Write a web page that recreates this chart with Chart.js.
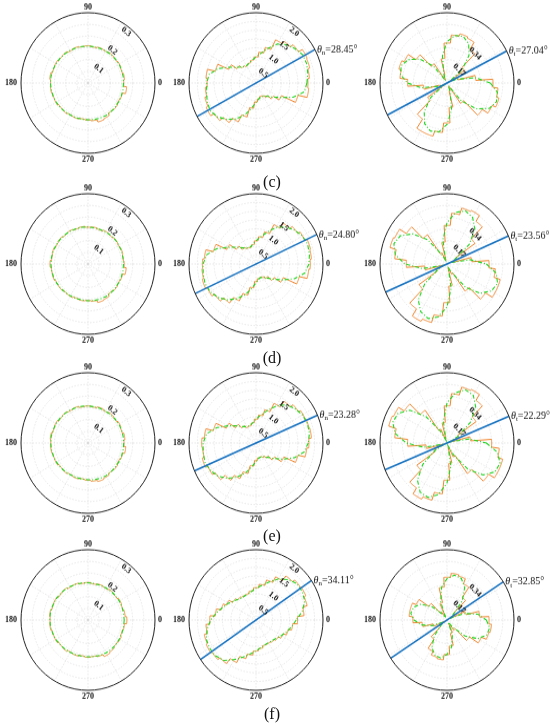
<!DOCTYPE html>
<html>
<head>
<meta charset="utf-8">
<script src="https://cdn.jsdelivr.net/npm/chart.js@4.4.0/dist/chart.umd.min.js"></script>
<style>
html, body { margin: 0; padding: 0; background: #fff; overflow: hidden; }
#page { position: relative; width: 550px; height: 723px; overflow: hidden; }
.cell { position: absolute; width: 340px; height: 172px; transform: scaleY(1.05); transform-origin: 170px 86px; }
.cell canvas { display: block; }
.tag { position: absolute; width: 40px; margin-left: -20px; text-align: center; font: 16px "Liberation Serif", serif; color: #111; line-height: 18px; }
</style>
</head>
<body>
<div id="page"></div>
<script>
// angles of the histogram bins / fit samples, every 10 degrees (0..350)
var sampleAngles = [0,10,20,30,40,50,60,70,80,90,100,110,120,130,140,150,160,170,180,190,200,210,220,230,240,250,260,270,280,290,300,310,320,330,340,350];

// panel tags and principal directions
var panelTags = ['(c)', '(d)', '(e)', '(f)'];
var thetaN = [28.45, 24.80, 23.28, 34.11];
var thetaT = [27.04, 23.56, 22.29, 32.85];

// radial axis ticks
var leftTicks = ['0.1', '0.2', '0.3'];
var midTicks = ['0.5', '1.0', '1.5', '2.0'];
var rightTicks = ['0.17', '0.34'];

// left column (orange histogram, green fit)
var leftC_hist = [0.160,0.164,0.159,0.162,0.158,0.161,0.157,0.159,0.155,0.159,0.157,0.161,0.158,0.164,0.162,0.167,0.165,0.172,0.168,0.169,0.165,0.166,0.160,0.162,0.157,0.159,0.155,0.158,0.162,0.172,0.168,0.158,0.162,0.157,0.160,0.174];
var leftC_fit = [0.159,0.160,0.160,0.161,0.160,0.159,0.158,0.157,0.157,0.157,0.158,0.159,0.160,0.162,0.164,0.165,0.167,0.168,0.168,0.167,0.166,0.164,0.162,0.160,0.158,0.157,0.157,0.157,0.158,0.159,0.160,0.160,0.160,0.159,0.159,0.159];
var leftD_hist = [0.162,0.159,0.162,0.158,0.161,0.157,0.160,0.155,0.159,0.157,0.161,0.158,0.163,0.160,0.165,0.162,0.167,0.164,0.170,0.165,0.166,0.161,0.162,0.157,0.159,0.155,0.158,0.156,0.160,0.170,0.167,0.157,0.162,0.158,0.161,0.172];
var leftD_fit = [0.159,0.159,0.160,0.160,0.160,0.159,0.158,0.157,0.157,0.158,0.159,0.160,0.161,0.162,0.163,0.164,0.165,0.166,0.166,0.165,0.164,0.162,0.160,0.159,0.157,0.156,0.156,0.157,0.158,0.159,0.160,0.160,0.160,0.159,0.159,0.159];
var leftE_hist = [0.161,0.166,0.159,0.163,0.157,0.161,0.156,0.160,0.155,0.158,0.156,0.162,0.159,0.164,0.161,0.167,0.164,0.170,0.167,0.168,0.164,0.165,0.159,0.161,0.156,0.159,0.155,0.159,0.164,0.170,0.166,0.159,0.163,0.157,0.162,0.170];
var leftE_fit = [0.160,0.160,0.160,0.160,0.159,0.158,0.157,0.157,0.157,0.158,0.159,0.160,0.161,0.163,0.164,0.165,0.166,0.167,0.167,0.166,0.165,0.163,0.161,0.159,0.157,0.156,0.156,0.157,0.159,0.160,0.161,0.161,0.160,0.160,0.160,0.160];
var leftF_hist = [0.174,0.167,0.162,0.165,0.159,0.162,0.157,0.160,0.156,0.160,0.158,0.163,0.161,0.167,0.164,0.170,0.168,0.173,0.170,0.172,0.167,0.168,0.162,0.164,0.158,0.160,0.155,0.159,0.157,0.162,0.172,0.168,0.162,0.165,0.160,0.164];
var leftF_fit = [0.162,0.162,0.162,0.162,0.161,0.160,0.159,0.158,0.158,0.159,0.160,0.162,0.164,0.166,0.168,0.169,0.170,0.171,0.171,0.170,0.168,0.166,0.163,0.161,0.159,0.158,0.157,0.157,0.158,0.160,0.162,0.163,0.163,0.162,0.162,0.162];

// middle column
var midC_hist = [1.55,1.60,1.66,1.68,1.55,1.45,1.36,1.05,0.88,0.74,0.66,0.60,0.56,0.60,0.70,0.90,1.26,1.50,1.46,1.52,1.58,1.64,1.52,1.38,1.22,1.00,0.72,0.54,0.46,0.40,0.43,0.50,0.64,0.84,1.30,1.58];
var midC_fit = [1.52,1.57,1.61,1.61,1.52,1.42,1.28,1.05,0.86,0.74,0.66,0.60,0.57,0.60,0.70,0.90,1.20,1.42,1.47,1.50,1.55,1.58,1.50,1.35,1.18,0.96,0.72,0.55,0.46,0.42,0.43,0.49,0.62,0.82,1.18,1.46];
var midD_hist = [1.62,1.66,1.68,1.60,1.52,1.42,1.24,0.95,0.78,0.66,0.56,0.50,0.52,0.58,0.72,0.96,1.32,1.55,1.60,1.62,1.66,1.60,1.50,1.36,1.16,0.92,0.68,0.50,0.42,0.40,0.43,0.50,0.66,0.90,1.34,1.58];
var midD_fit = [1.58,1.62,1.64,1.60,1.50,1.38,1.20,0.96,0.78,0.66,0.56,0.51,0.53,0.60,0.74,0.96,1.26,1.50,1.58,1.60,1.62,1.58,1.48,1.33,1.14,0.92,0.70,0.53,0.44,0.41,0.44,0.52,0.67,0.90,1.22,1.48];
var midE_hist = [1.58,1.66,1.64,1.62,1.55,1.45,1.25,0.98,0.80,0.68,0.58,0.52,0.52,0.60,0.75,0.98,1.32,1.55,1.62,1.60,1.66,1.58,1.48,1.30,1.12,0.90,0.66,0.50,0.43,0.42,0.45,0.52,0.68,0.92,1.30,1.52];
var midE_fit = [1.56,1.62,1.63,1.60,1.52,1.42,1.22,0.98,0.80,0.68,0.58,0.53,0.54,0.61,0.76,0.98,1.26,1.50,1.58,1.60,1.62,1.57,1.47,1.31,1.12,0.90,0.68,0.52,0.44,0.42,0.45,0.53,0.68,0.92,1.22,1.46];
var midF_hist = [1.24,1.44,1.58,1.64,1.62,1.54,1.36,1.18,1.02,0.92,0.84,0.78,0.78,0.80,0.86,0.98,1.08,1.22,1.38,1.50,1.60,1.64,1.60,1.52,1.34,1.14,1.00,0.88,0.82,0.76,0.76,0.78,0.82,0.90,1.00,1.10];
var midF_fit = [1.20,1.40,1.55,1.60,1.60,1.50,1.35,1.15,1.00,0.90,0.82,0.78,0.76,0.78,0.85,0.95,1.05,1.20,1.35,1.48,1.58,1.60,1.58,1.50,1.30,1.12,0.98,0.88,0.80,0.76,0.74,0.76,0.80,0.88,0.98,1.08];

// right column
var rightC_hist = [0.35,0.22,0.09,0.03,0.16,0.30,0.36,0.37,0.35,0.29,0.18,0.06,0.03,0.17,0.29,0.36,0.38,0.36,0.30,0.18,0.06,0.02,0.18,0.32,0.40,0.40,0.36,0.29,0.18,0.06,0.03,0.18,0.33,0.38,0.41,0.39];
var rightC_fit = [0.33,0.22,0.08,0.02,0.15,0.26,0.33,0.36,0.35,0.30,0.20,0.07,0.02,0.16,0.27,0.34,0.37,0.36,0.30,0.20,0.07,0.02,0.16,0.27,0.34,0.37,0.36,0.30,0.20,0.07,0.02,0.17,0.29,0.37,0.40,0.39];
var rightD_hist = [0.32,0.19,0.04,0.08,0.26,0.38,0.43,0.42,0.37,0.28,0.16,0.03,0.09,0.26,0.38,0.44,0.45,0.40,0.31,0.17,0.03,0.09,0.26,0.40,0.46,0.44,0.38,0.28,0.16,0.03,0.08,0.24,0.36,0.42,0.42,0.37];
var rightD_fit = [0.30,0.18,0.03,0.07,0.22,0.33,0.39,0.41,0.38,0.30,0.18,0.03,0.08,0.23,0.34,0.41,0.43,0.40,0.32,0.19,0.03,0.08,0.22,0.34,0.40,0.42,0.39,0.31,0.18,0.03,0.07,0.22,0.33,0.39,0.41,0.38];
var rightE_hist = [0.34,0.18,0.03,0.10,0.27,0.38,0.43,0.42,0.36,0.27,0.15,0.03,0.11,0.29,0.40,0.45,0.46,0.40,0.30,0.16,0.03,0.11,0.28,0.40,0.45,0.43,0.37,0.27,0.15,0.03,0.11,0.27,0.39,0.44,0.44,0.40];
var rightE_fit = [0.30,0.17,0.02,0.09,0.23,0.34,0.40,0.41,0.37,0.29,0.16,0.02,0.10,0.25,0.37,0.43,0.44,0.40,0.31,0.18,0.02,0.10,0.24,0.35,0.41,0.42,0.38,0.29,0.17,0.02,0.10,0.25,0.36,0.42,0.43,0.39];
var rightF_hist = [0.32,0.25,0.15,0.03,0.07,0.20,0.29,0.33,0.34,0.31,0.24,0.13,0.03,0.07,0.17,0.26,0.29,0.29,0.26,0.19,0.11,0.02,0.07,0.17,0.25,0.28,0.29,0.25,0.19,0.10,0.03,0.09,0.21,0.29,0.33,0.34];
var rightF_fit = [0.30,0.24,0.14,0.02,0.06,0.18,0.27,0.32,0.33,0.30,0.24,0.14,0.02,0.06,0.15,0.23,0.27,0.28,0.25,0.20,0.12,0.02,0.06,0.15,0.23,0.27,0.28,0.25,0.20,0.12,0.02,0.07,0.18,0.27,0.32,0.33];

// layout of the 4 x 3 grid (centres of the polar plots) and panel tags
var colX = [88, 256, 447];
var rowY = [83, 264, 443, 620];
var tagX = 272;
var tagY = [182, 358, 536, 714];

var ORANGE = '#f0862f';
var GREEN = '#1fd51f';
var BLUE = '#1672c0';
var GRID = '#d6d6d6';

var STEP = 0.5;           // angular resolution of the radar table (deg)
var NPTS = 360 / STEP;
var BIN = 10;

// radar index i runs clockwise from 0 deg, so map it to the math angle
function angleAt(i) {
    return (360 - i * STEP) % 360;
}

function stepTable(hist) {
    var out = [];
    for (var i = 0; i < NPTS; i++) {
        var a = angleAt(i);
        out.push(hist[Math.floor(((a + BIN / 2) % 360) / BIN)]);
    }
    return out;
}

function sampleTable(fit) {
    var out = [];
    for (var i = 0; i < NPTS; i++) {
        var k = sampleAngles.indexOf(angleAt(i));
        out.push(k >= 0 ? fit[k] : null);
    }
    return out;
}

var polarDecor = {
    id: 'polarDecor',
    afterDatasetsDraw: function(chart, args, opts) {
        var s = chart.scales.r, ctx = chart.ctx;
        var cx = s.xCenter, cy = s.yCenter, R = s.drawingArea;
        ctx.save();

        // principal direction line
        if (opts.axisAngle != null) {
            var t = opts.axisAngle * Math.PI / 180;
            var x1 = cx + R * Math.cos(t), y1 = cy - R * Math.sin(t);
            ctx.strokeStyle = BLUE;
            ctx.lineWidth = 1.6;
            ctx.beginPath();
            ctx.moveTo(x1, y1);
            ctx.lineTo(cx - R * Math.cos(t), cy + R * Math.sin(t));
            ctx.stroke();

            ctx.fillStyle = '#111';
            ctx.textAlign = 'left';
            ctx.textBaseline = 'middle';
            var x = x1 + 2;
            ctx.font = 'italic 10px "Liberation Serif"';
            ctx.fillText('\u03b8', x, y1);
            x += ctx.measureText('\u03b8').width;
            ctx.font = '7px "Liberation Serif"';
            ctx.fillText(opts.axisSub, x, y1 + 3);
            x += ctx.measureText(opts.axisSub).width;
            ctx.font = '10px "Liberation Serif"';
            ctx.fillText('=' + opts.axisAngle.toFixed(2) + '\u00b0', x, y1);
        }

        // outer ring
        ctx.strokeStyle = '#222';
        ctx.lineWidth = 1;
        ctx.beginPath();
        ctx.arc(cx, cy, R, 0, Math.PI * 2);
        ctx.stroke();

        // angle labels
        ctx.fillStyle = '#111';
        ctx.font = 'bold 8px "Liberation Serif"';
        ctx.textBaseline = 'middle';
        ctx.textAlign = 'center';
        ctx.fillText('90', cx, cy - R - 5);
        ctx.fillText('270', cx, cy + R + 6);
        ctx.textAlign = 'left';
        ctx.fillText('0', cx + R + 3, cy);
        ctx.textAlign = 'right';
        ctx.fillText('180', cx - R - 4, cy);

        // radial tick labels, written along the ring
        var a = opts.tickAngle * Math.PI / 180;
        ctx.textAlign = 'center';
        opts.ticks.forEach(function(lbl) {
            var d = s.getDistanceFromCenterForValue(parseFloat(lbl)) - 5;
            ctx.save();
            ctx.translate(cx + d * Math.cos(a), cy - d * Math.sin(a));
            ctx.rotate(Math.PI / 2 - a);
            ctx.fillText(lbl, 0, 0);
            ctx.restore();
        });
        ctx.restore();
    }
};

function makePolar(col, row, hist, fit, cfg) {
    var page = document.getElementById('page');
    var cell = document.createElement('div');
    cell.className = 'cell';
    cell.style.left = (colX[col] - 170) + 'px';
    cell.style.top = (rowY[row] - 86) + 'px';
    var cv = document.createElement('canvas');
    cv.width = 340;
    cv.height = 172;
    cell.appendChild(cv);
    page.appendChild(cell);

    var labels = [];
    for (var i = 0; i < NPTS; i++) labels.push(angleAt(i));

    return new Chart(cv, {
        type: 'radar',
        data: {
            labels: labels,
            datasets: [{
                label: 'fit',
                data: sampleTable(fit),
                spanGaps: true,
                borderColor: GREEN,
                borderWidth: 1.1,
                borderDash: [4, 2, 1, 2],
                fill: false,
                pointRadius: 0
            }, {
                label: 'histogram',
                data: stepTable(hist),
                borderColor: ORANGE,
                borderWidth: 1,
                fill: false,
                pointRadius: 0
            }]
        },
        options: {
            responsive: false,
            animation: false,
            devicePixelRatio: 1,
            layout: { padding: { left: 103, right: 103, top: 19, bottom: 19 } },
            plugins: {
                legend: { display: false },
                tooltip: { enabled: false },
                polarDecor: cfg
            },
            elements: { line: { tension: 0 } },
            scales: {
                r: {
                    min: 0,
                    max: cfg.max,
                    startAngle: 90,
                    ticks: { display: false, stepSize: cfg.step },
                    pointLabels: { display: false },
                    grid: {
                        circular: true,
                        color: GRID,
                        lineWidth: function(c) { return c.tick && c.tick.value >= cfg.max - 1e-9 ? 0 : 0.6; }
                    },
                    border: { dash: [1.5, 1.5] },
                    angleLines: {
                        color: GRID,
                        borderDash: [1.5, 1.5],
                        lineWidth: function(c) { return c.index % (30 / STEP) === 0 ? 0.6 : 0; }
                    }
                }
            }
        },
        plugins: [polarDecor]
    });
}

var leftHist = [leftC_hist, leftD_hist, leftE_hist, leftF_hist];
var leftFit = [leftC_fit, leftD_fit, leftE_fit, leftF_fit];
var midHist = [midC_hist, midD_hist, midE_hist, midF_hist];
var midFit = [midC_fit, midD_fit, midE_fit, midF_fit];
var rightHist = [rightC_hist, rightD_hist, rightE_hist, rightF_hist];
var rightFit = [rightC_fit, rightD_fit, rightE_fit, rightF_fit];

for (var r = 0; r < 4; r++) {
    makePolar(0, r, leftHist[r], leftFit[r], { max: 0.3, step: 0.05, ticks: leftTicks, tickAngle: 52, axisAngle: null });
    makePolar(1, r, midHist[r], midFit[r], { max: 2.0, step: 0.25, ticks: midTicks, tickAngle: 52, axisAngle: thetaN[r], axisSub: 'n' });
    makePolar(2, r, rightHist[r], rightFit[r], { max: 0.51, step: 0.085, ticks: rightTicks, tickAngle: 45, axisAngle: thetaT[r], axisSub: 't' });

    var tag = document.createElement('div');
    tag.className = 'tag';
    tag.style.left = tagX + 'px';
    tag.style.top = (tagY[r] - 9) + 'px';
    tag.textContent = panelTags[r];
    document.getElementById('page').appendChild(tag);
}
</script>
</body>
</html>
